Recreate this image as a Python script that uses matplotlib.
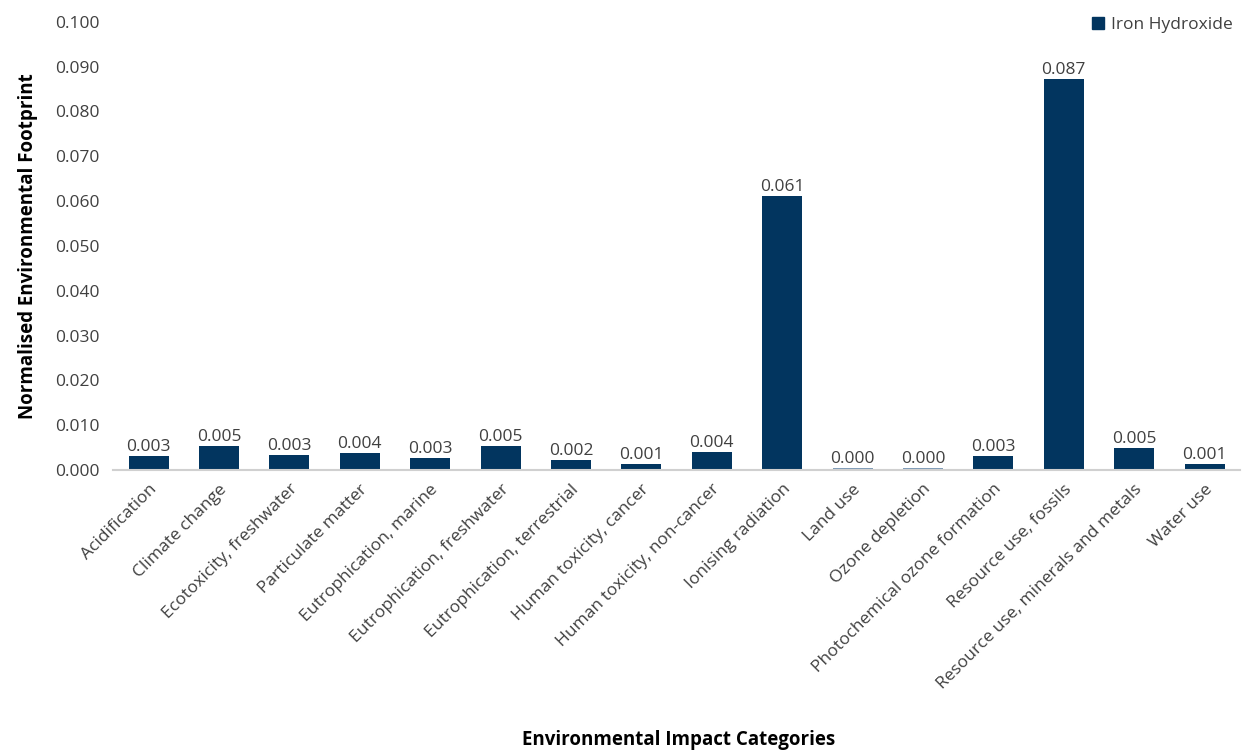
import matplotlib.pyplot as plt
from matplotlib.patches import Patch
import numpy as np

categories = ['Acidification', 'Climate change', 'Ecotoxicity, freshwater',
              'Particulate matter', 'Eutrophication, marine',
              'Eutrophication, freshwater', 'Eutrophication, terrestrial',
              'Human toxicity, cancer', 'Human toxicity, non-cancer',
              'Ionising radiation', 'Land use', 'Ozone depletion',
              'Photochemical ozone formation', 'Resource use, fossils',
              'Resource use, minerals and metals', 'Water use']
values = [0.0031, 0.0054, 0.0034, 0.0038, 0.0028, 0.0054, 0.0022, 0.0014,
          0.0041, 0.0612, 0.0004, 0.0004, 0.0032, 0.0873, 0.0049, 0.0013]
yticks = np.arange(0, 0.1001, 0.01)

plt.rcParams['font.family'] = ['Open Sans', 'DejaVu Sans']

navy = '#02355f'
light = '#7f9cb8'
text_col = '#404040'

fig = plt.figure(figsize=(12.46, 7.51), dpi=100)
ax = fig.add_axes([0.091, 0.374, 0.904, 0.597])

x = np.arange(len(categories))
colors = [light if v < 0.0005 else navy for v in values]
ax.bar(x, values, width=0.57, color=colors, zorder=2)

for xi, v in zip(x, values):
    ax.text(xi, v + 0.0002, f'{v:.3f}', ha='center', va='bottom',
            fontsize=12.5, color=text_col)

ax.set_xlim(-0.5, len(categories) - 0.5)
ax.set_ylim(0, 0.1)
ax.set_yticks(yticks)
ax.set_yticklabels([f'{t:.3f}' for t in yticks], fontsize=12.5, color=text_col)
ax.set_xticks(x)
ax.set_xticklabels(categories, rotation=45, ha='right', rotation_mode='anchor',
                   fontsize=12.5, color=text_col)
ax.tick_params(axis='y', length=0, pad=10)
ax.tick_params(axis='x', length=0, pad=8)

for s in ['top', 'right', 'left']:
    ax.spines[s].set_visible(False)
ax.spines['bottom'].set_color('#d0d0d0')
ax.spines['bottom'].set_linewidth(1.5)

ax.set_ylabel('Normalised Environmental Footprint', fontsize=13.5,
              fontweight='bold', color='black', labelpad=12)
fig.text(0.545, 0.008, 'Environmental Impact Categories', ha='center',
         fontsize=13.5, fontweight='bold')

ax.legend(handles=[Patch(color=navy, label='Iron Hydroxide')], loc='upper right',
          bbox_to_anchor=(1.008, 1.045), frameon=False, fontsize=12.5,
          handlelength=0.7, handleheight=0.7, handletextpad=0.4,
          labelcolor=text_col)

fig.savefig('out.png', dpi=100)
